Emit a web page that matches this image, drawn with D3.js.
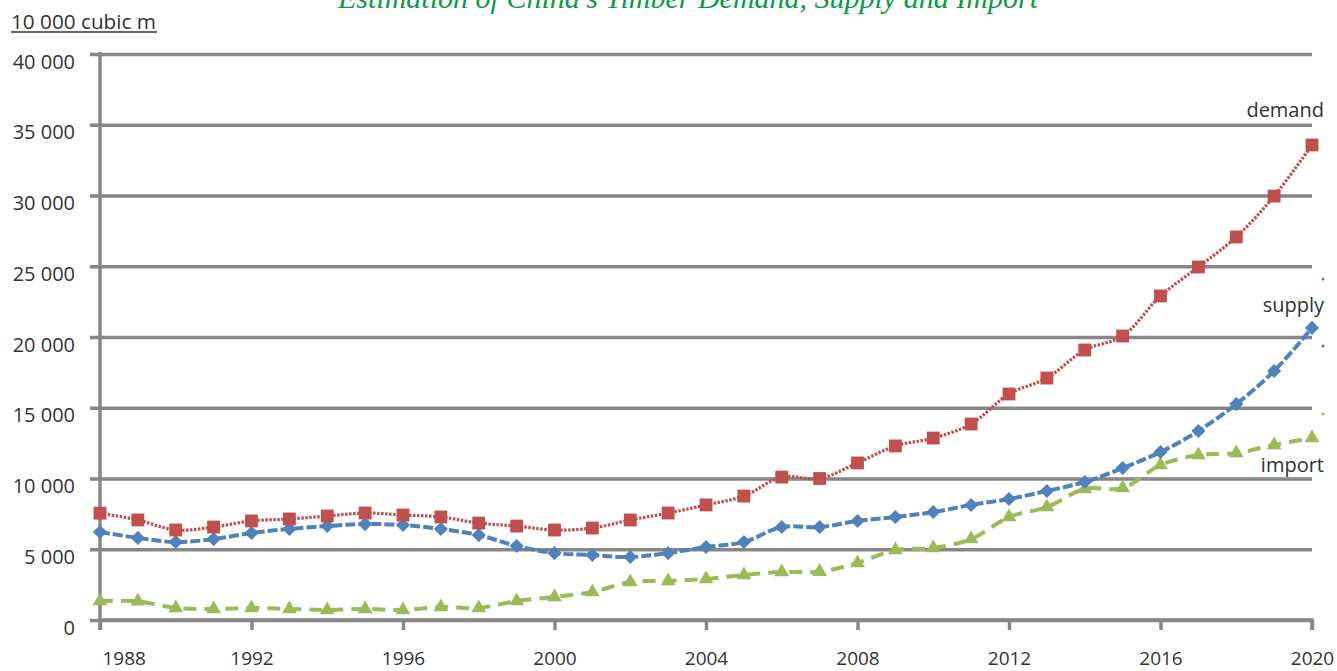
<!DOCTYPE html>
<html>
<head>
<meta charset="utf-8">
<script src="https://cdn.jsdelivr.net/npm/d3@7"></script>
<style>
  body { margin: 0; background: #fff; }
  svg { display: block; }
  text { font-family: "Open Sans", "Noto Sans", sans-serif; fill: #333; }
</style>
</head>
<body>
<svg id="canvas"></svg>
<script>
// data (unit: 10 000 cubic m)
let years = d3.range(1988, 2021);

let demand = [7550, 7070, 6360, 6570, 7000, 7140, 7350, 7560, 7420, 7280,
              6850, 6640, 6360, 6500, 7070, 7560, 8130, 8760, 10100, 10000,
              11100, 12300, 12860, 13850, 15970, 17100, 19080, 20070, 22900, 24950,
              27070, 29960, 33570];

let supply = [6220, 5800, 5510, 5720, 6150, 6430, 6640, 6780, 6710, 6430,
              6000, 5230, 4730, 4590, 4450, 4730, 5160, 5510, 6570, 6570,
              7000, 7280, 7630, 8130, 8550, 9120, 9750, 10740, 11870, 13360,
              15260, 17600, 20640];

let imports = [1340, 1320, 850, 780, 850, 780, 710, 780, 710, 920,
               850, 1340, 1630, 1980, 2690, 2760, 2900, 3180, 3390, 3420,
               4030, 4950, 5090, 5720, 7280, 7990, 9260, 9330, 10950, 11660,
               11800, 12370, 12860];

let yTicks = [0, 5000, 10000, 15000, 20000, 25000, 30000, 35000, 40000];
let xTicks = [1988, 1992, 1996, 2000, 2004, 2008, 2012, 2016, 2020];

let title = "Estimation of China's Timber Demand, Supply and Import";
let unitLabel = "10 000 cubic m";

let width = 1337;
let height = 671;

let canvas = d3.select("#canvas")
    .attr("width", width)
    .attr("height", height);

let xScale = d3.scaleLinear().domain([1988, 2020]).range([100, 1312]);
let yScale = d3.scaleLinear().domain([0, 40000]).range([620, 54]);

let fmt = (v) => d3.format(",")(v).replace(/,/g, " ");
let axisGrey = "#878787";

// title (cut off at the top like the source)
canvas.append("text")
    .attr("x", 688)
    .attr("y", 8)
    .attr("text-anchor", "middle")
    .attr("textLength", 700)
    .attr("lengthAdjust", "spacingAndGlyphs")
    .style("font-family", "'Liberation Serif', serif")
    .style("font-style", "italic")
    .style("font-size", "30px")
    .style("fill", "#0b9a48")
    .text(title);

// unit label, underlined
canvas.append("text")
    .attr("x", 11)
    .attr("y", 29)
    .attr("textLength", 145)
    .attr("lengthAdjust", "spacingAndGlyphs")
    .style("font-size", "20px")
    .text(unitLabel);
canvas.append("line")
    .attr("x1", 11).attr("x2", 157)
    .attr("y1", 32).attr("y2", 32)
    .attr("stroke", "#333").attr("stroke-width", 1.3);

// gridlines + y axis
let yAxis = d3.axisLeft(yScale)
    .tickValues(yTicks)
    .tickSize(-(1312 - 90))
    .tickFormat(fmt);

let yG = canvas.append("g")
    .attr("transform", "translate(90,0)")
    .call(yAxis);
yG.select(".domain").remove();
yG.selectAll(".tick line")
    .attr("stroke", axisGrey)
    .attr("stroke-width", 3.5);
yG.selectAll(".tick text")
    .attr("x", -15)
    .attr("dy", "0.7em")
    .attr("fill", "#333")
    .style("font-size", "20px")
    .style("font-family", "'Open Sans', sans-serif");

// vertical axis line
canvas.append("line")
    .attr("x1", 100).attr("x2", 100)
    .attr("y1", yScale(40000) - 2).attr("y2", 630)
    .attr("stroke", axisGrey).attr("stroke-width", 3.5);

// x axis
let xAxis = d3.axisBottom(xScale)
    .tickValues(xTicks)
    .tickSize(10)
    .tickPadding(22)
    .tickFormat(d3.format("d"));

let xG = canvas.append("g")
    .attr("transform", "translate(0,620)")
    .call(xAxis);
xG.select(".domain")
    .attr("stroke", axisGrey)
    .attr("stroke-width", 3.5)
    .attr("d", "M100,0H1312V10");
xG.selectAll(".tick line")
    .attr("stroke", axisGrey)
    .attr("stroke-width", 3.5);
xG.selectAll(".tick text")
    .attr("fill", "#333")
    .style("font-size", "19px")
    .style("font-family", "'Open Sans', sans-serif");
xG.selectAll(".tick text")
    .filter((d) => d === 1988)
    .attr("text-anchor", "start")
    .attr("x", 2);

// wide diamond: a square turned 45 degrees
let diamond = {
  draw(ctx, size) {
    let r = Math.sqrt(size / 2);
    ctx.moveTo(0, -r);
    ctx.lineTo(r, 0);
    ctx.lineTo(0, r);
    ctx.lineTo(-r, 0);
    ctx.closePath();
  }
};

// series
let series = [
  { name: "import", values: imports, color: "#9BBB59", dash: "13,8", width: 4, symbol: d3.symbolTriangle, size: 95 },
  { name: "supply", values: supply, color: "#4F81BD", dash: "10,3", width: 4, symbol: diamond, size: 100 },
  { name: "demand", values: demand, color: "#C0504D", dash: "2.5,1.5", width: 3.2, symbol: d3.symbolSquare, size: 165 }
];

let line = d3.line()
    .x((d, i) => xScale(years[i]))
    .y((d) => yScale(d))
    .curve(d3.curveCatmullRom.alpha(0.5));

series.forEach((s) => {
  canvas.append("path")
      .datum(s.values)
      .attr("d", line)
      .attr("fill", "none")
      .attr("stroke", s.color)
      .attr("stroke-width", s.width)
      .attr("stroke-dasharray", s.dash);

  canvas.selectAll(".m-" + s.name)
      .data(s.values)
      .enter()
      .append("path")
      .attr("class", "m-" + s.name)
      .attr("d", d3.symbol().type(s.symbol).size(s.size))
      .attr("transform", (d, i) => "translate(" + xScale(years[i]) + "," + yScale(d) + ")")
      .attr("fill", s.color);
});

// series labels
let labels = [
  { text: "demand", y: 117 },
  { text: "supply", y: 312 },
  { text: "import", y: 472 }
];
canvas.selectAll(".series-label")
    .data(labels)
    .enter()
    .append("text")
    .attr("class", "series-label")
    .attr("x", 1324)
    .attr("y", (d) => d.y)
    .attr("text-anchor", "end")
    .style("font-size", "20px")
    .text((d) => d.text);

// remains of a legend clipped off at the right edge
let legendDots = [
  { color: "#4F81BD", y: 279 },
  { color: "#C0504D", y: 346 },
  { color: "#9BBB59", y: 414 }
];
canvas.selectAll(".legend-dot")
    .data(legendDots)
    .enter()
    .append("circle")
    .attr("cx", 1323)
    .attr("cy", (d) => d.y)
    .attr("r", 1.5)
    .attr("fill", (d) => d.color);
</script>
</body>
</html>
